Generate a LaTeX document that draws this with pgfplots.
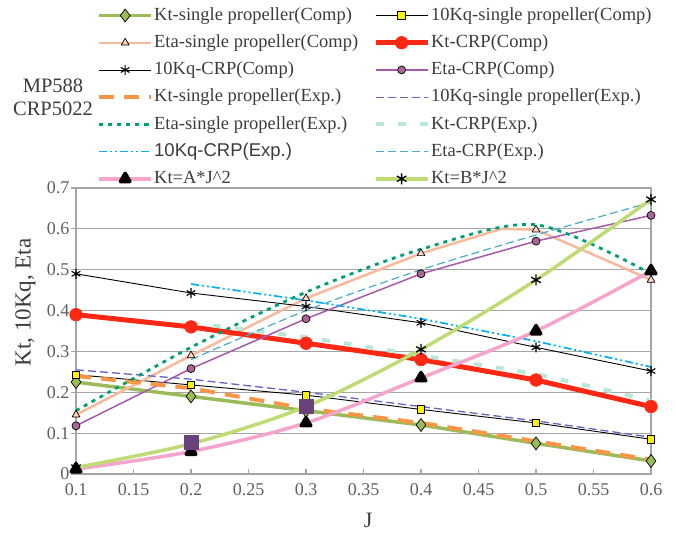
\documentclass[border=0pt]{standalone}
\usepackage{pgfplots}
\pgfplotsset{compat=1.18}
\usepackage{fontspec}
\setmainfont{Liberation Serif}
\newfontfamily\arialfont{Liberation Sans}
\definecolor{ktsingle}{RGB}{155,187,89}
\definecolor{etasingle}{RGB}{250,185,155}
\definecolor{ktcrp}{RGB}{255,40,20}
\definecolor{etacrp}{RGB}{165,90,170}
\definecolor{etacrpmk}{RGB}{170,100,150}
\definecolor{ktsexp}{RGB}{247,150,70}
\definecolor{kqsexp}{RGB}{100,100,200}
\definecolor{etasexp}{RGB}{0,160,110}
\definecolor{ktcexp}{RGB}{185,230,215}
\definecolor{kqcexp}{RGB}{0,176,240}
\definecolor{etacexp}{RGB}{75,172,198}
\definecolor{apink}{RGB}{245,165,205}
\definecolor{blime}{RGB}{190,220,115}
\definecolor{sqpurple}{RGB}{105,65,125}
\definecolor{axgray}{RGB}{165,165,165}
\definecolor{txtgray}{RGB}{95,95,95}
\definecolor{legtxt}{RGB}{60,60,60}
\begin{document}
\begin{tikzpicture}
\useasboundingbox (0pt,0pt) rectangle (676pt,533pt);
\begin{axis}[
  at={(76pt,59pt)}, anchor=south west,
  scale only axis, width=575pt, height=286pt,
  xmin=0.1, xmax=0.6, ymin=0, ymax=0.7,
  xtick={0.1,0.15,...,0.61}, ytick={0,0.1,...,0.71},
  xticklabels={0.1,0.15,0.2,0.25,0.3,0.35,0.4,0.45,0.5,0.55,0.6},
  yticklabels={0,0.1,0.2,0.3,0.4,0.5,0.6,0.7},
  tick label style={font=\fontsize{18}{20}\selectfont, text=txtgray},
  xticklabel style={yshift=-6pt},
  yticklabel style={xshift=-3pt},
  ymajorgrids, grid style={axgray, line width=1.1pt},
  axis line style={axgray, line width=1.1pt},
  xtick style={axgray, line width=1.1pt}, ytick style={axgray, line width=1.1pt, xshift=-5pt},
  tick align=inside, major tick length=5pt,
  xtick pos=bottom, ytick pos=left,
  xlabel={J}, ylabel={Kt, 10Kq, Eta},
  xlabel style={font=\fontsize{22}{24}\selectfont, text=legtxt, at={(axis description cs:0.508,-0.163)}, anchor=center},
  ylabel style={font=\fontsize{23}{26}\selectfont, text=legtxt, at={(axis description cs:-0.088,0.600)}, anchor=center},
  legend columns=2,
  legend image code/.code={\draw[mark repeat=2,mark phase=2] plot coordinates {(0pt,0pt) (26pt,0pt) (52pt,0pt)};},
  legend style={at={(axis description cs:0.0365,1.643)}, anchor=north west, draw=none, fill=none,
    font=\fontsize{18.5}{20}\selectfont, text=legtxt, row sep=4.7pt, inner sep=0pt,
    nodes={inner sep=1pt, text height=15pt, text depth=5.5pt},
    /tikz/every even column/.append style={column sep=14pt}},
  legend cell align=left,
  every axis plot/.append style={line join=round},
  clip=false,
]
% Kt-single propeller (Comp)
\addplot[ktsingle, line width=3.5pt, mark=diamond*, mark size=6.5pt,
  mark options={solid, fill=ktsingle, draw=black, line width=0.7pt}]
  coordinates {(0.1,0.225) (0.2,0.19) (0.3,0.155) (0.4,0.12) (0.5,0.075) (0.6,0.032)};
\addlegendentry{Kt-single propeller(Comp)}
% 10Kq-single propeller (Comp)
\addplot[black, line width=0.9pt, mark=square*, mark size=3.8pt,
  mark options={solid, fill=yellow, draw=black, line width=0.7pt}]
  coordinates {(0.1,0.243) (0.2,0.218) (0.3,0.193) (0.4,0.158) (0.5,0.125) (0.6,0.085)};
\addlegendentry{10Kq-single propeller(Comp)}
% Eta-single propeller (Comp)
\addplot[etasingle, line width=2.5pt, mark=triangle*, mark size=4.5pt, mark indices={1,2,3,4,6,7},
  mark options={solid, fill=etasingle!60, draw=black, line width=0.7pt},
  legend image code/.code={\draw[mark indices={2}] plot coordinates {(0pt,0pt) (26pt,0pt) (52pt,0pt)};}]
  coordinates {(0.1,0.145) (0.2,0.29) (0.3,0.43) (0.4,0.54) (0.47,0.6) (0.5,0.598) (0.6,0.475)};
\addlegendentry{Eta-single propeller(Comp)}
% Kt-CRP (Comp)
\addplot[ktcrp, line width=5pt, mark=*, mark size=6.3pt,
  mark options={solid, fill=ktcrp, draw=ktcrp, line width=0.6pt}]
  coordinates {(0.1,0.39) (0.2,0.36) (0.3,0.32) (0.4,0.28) (0.5,0.23) (0.6,0.165)};
\addlegendentry{Kt-CRP(Comp)}
% 10Kq-CRP (Comp)
\addplot[black, line width=0.9pt, mark=asterisk, mark size=5pt,
  mark options={solid, draw=black, line width=1.1pt}]
  coordinates {(0.1,0.49) (0.2,0.443) (0.3,0.41) (0.4,0.37) (0.5,0.31) (0.6,0.252)};
\addlegendentry{10Kq-CRP(Comp)}
% Eta-CRP (Comp)
\addplot[etacrp, line width=1.5pt, mark=*, mark size=4pt,
  mark options={solid, fill=etacrpmk, draw=black, line width=0.7pt}]
  coordinates {(0.1,0.118) (0.2,0.258) (0.3,0.38) (0.4,0.49) (0.5,0.57) (0.6,0.633)};
\addlegendentry{Eta-CRP(Comp)}
% Kt-single propeller (Exp)
\addplot[ktsexp, line width=4pt, dash pattern=on 15pt off 10pt]
  coordinates {(0.1,0.24) (0.2,0.21) (0.3,0.16) (0.4,0.125) (0.5,0.08) (0.6,0.035)};
\addlegendentry{Kt-single propeller(Exp.)}
% 10Kq-single propeller (Exp)
\addplot[kqsexp, line width=1.3pt, dash pattern=on 8pt off 4pt]
  coordinates {(0.1,0.255) (0.2,0.232) (0.3,0.2) (0.4,0.165) (0.5,0.13) (0.6,0.09)};
\addlegendentry{10Kq-single propeller(Exp.)}
% Eta-single propeller (Exp)
\addplot[etasexp, line width=2.8pt, dash pattern=on 4pt off 5pt, smooth]
  coordinates {(0.1,0.155) (0.2,0.31) (0.3,0.445) (0.4,0.55) (0.5,0.61) (0.6,0.49)};
\addlegendentry{Eta-single propeller(Exp.)}
% Kt-CRP (Exp)
\addplot[ktcexp, line width=4pt, dash pattern=on 8pt off 14pt]
  coordinates {(0.2,0.37) (0.3,0.335) (0.4,0.29) (0.5,0.245) (0.6,0.18)};
\addlegendentry{Kt-CRP(Exp.)}
% 10Kq-CRP (Exp)
\addplot[kqcexp, line width=1.7pt, dash pattern=on 8pt off 3pt on 2pt off 3pt on 2pt off 3pt]
  coordinates {(0.2,0.465) (0.3,0.425) (0.4,0.38) (0.5,0.325) (0.6,0.262)};
\addlegendentry{{\arialfont 10Kq-CRP(Exp.)}}
% Eta-CRP (Exp)
\addplot[etacexp, line width=1.2pt, dash pattern=on 8pt off 4pt, smooth]
  coordinates {(0.2,0.28) (0.3,0.4) (0.4,0.5) (0.5,0.585) (0.6,0.665)};
\addlegendentry{Eta-CRP(Exp.)}
% Kt=A*J^2
\addplot[apink, line width=3.5pt, smooth, mark=triangle*, mark size=5.5pt,
  mark options={solid, fill=black, draw=black}]
  coordinates {(0.1,0.012) (0.2,0.055) (0.3,0.125) (0.4,0.235) (0.5,0.35) (0.6,0.497)};
\addlegendentry{Kt=A*J\textasciicircum 2}
% Kt=B*J^2
\addplot[blime, line width=3.5pt, smooth, mark=asterisk, mark size=5.5pt,
  mark options={solid, draw=black, line width=1.3pt}]
  coordinates {(0.1,0.016) (0.2,0.074) (0.3,0.165) (0.4,0.305) (0.5,0.475) (0.6,0.672)};
\addlegendentry{Kt=B*J\textasciicircum 2}
% purple squares (no legend)
\addplot[only marks, mark=square*, mark size=7pt, mark options={fill=sqpurple, draw=sqpurple}, forget plot]
  coordinates {(0.2,0.078) (0.3,0.165)};
\node[align=center, font=\fontsize{20.5}{23}\selectfont, text=legtxt] at (axis description cs:-0.040,1.318) {MP588\\CRP5022};
\end{axis}
\end{tikzpicture}
\end{document}
